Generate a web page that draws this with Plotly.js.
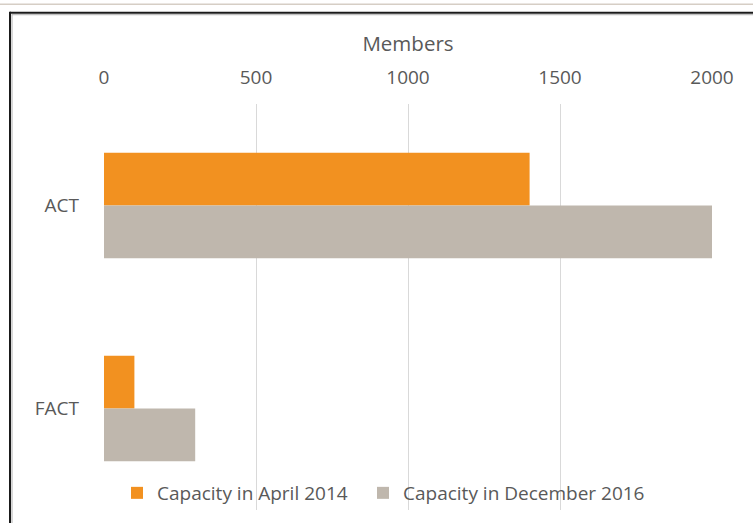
<!DOCTYPE html>
<html>
<head>
<meta charset="utf-8">
<script src="https://cdn.plot.ly/plotly-3.0.1.min.js"></script>
<style>
html,body{margin:0;padding:0;background:#fff;overflow:hidden;}
#chart{width:753px;height:523px;}
</style>
</head>
<body>
<div id="chart"></div>
<script>
var categories = ['ACT', 'FACT'];
var seriesNames = ['Capacity in April 2014', 'Capacity in December 2016'];
var april2014 = [1400, 100];
var december2016 = [2000, 300];
var xTicks = [0, 500, 1000, 1500, 2000];

var W = 753, H = 523;
var mL = 104, mR = 41, mT = 104, mB = 12;
var pw = W - mL - mR, ph = H - mT - mB;
function px(x){ return (x - mL) / pw; }
function py(y){ return (H - mB - y) / ph; }

var textColor = '#595959';
var fam = '"Open Sans", sans-serif';
var font = {family: fam, size: 19, color: textColor};
var titleFont = {family: fam, size: 20.5, color: textColor};

var traces = [
  {type: 'bar', orientation: 'h', name: seriesNames[0], y: categories, x: april2014,
   marker: {color: '#F29120'}, hoverinfo: 'x+name', legend: 'legend'},
  {type: 'bar', orientation: 'h', name: seriesNames[1], y: categories, x: december2016,
   marker: {color: '#BFB7AD'}, hoverinfo: 'x+name', legend: 'legend2'}
];

function legendAt(xPix){
  return {orientation: 'h', x: px(xPix), xanchor: 'left', y: py(493), yanchor: 'middle',
          bgcolor: 'rgba(0,0,0,0)', font: font};
}

var layout = {
  width: W, height: H,
  margin: {l: mL, r: mR, t: mT, b: mB, pad: 0},
  paper_bgcolor: '#ffffff', plot_bgcolor: '#ffffff',
  font: font,
  barmode: 'group',
  bargap: 0.48, bargroupgap: 0,
  showlegend: true,
  legend: legendAt(117),
  legend2: legendAt(363),
  xaxis: {side: 'top', range: [0, 2000], tickvals: xTicks, ticktext: xTicks.map(String),
          showgrid: true, gridcolor: '#D9D9D9', gridwidth: 1, zeroline: false,
          showline: false, ticks: '', tickfont: font, ticklabelstandoff: 15,
          title: {text: 'Members', font: titleFont, standoff: 7}},
  yaxis: {type: 'category', autorange: 'reversed', showgrid: false, zeroline: false,
          showline: false, ticks: '', tickfont: font, ticklabelstandoff: 24},
  shapes: [
    {type: 'line', xref: 'paper', yref: 'paper', x0: px(0), x1: px(W), y0: py(4), y1: py(4),
     line: {color: '#D6CEC5', width: 1.5}},
    {type: 'line', xref: 'paper', yref: 'paper', x0: px(10), x1: px(W + 5), y0: py(12.5), y1: py(12.5),
     line: {color: '#1a1a1a', width: 2}},
    {type: 'line', xref: 'paper', yref: 'paper', x0: px(10), x1: px(10), y0: py(11.5), y1: py(H + 5),
     line: {color: '#1a1a1a', width: 2}},
    {type: 'line', xref: 'paper', yref: 'paper', x0: px(12), x1: px(W + 5), y0: py(14.5), y1: py(14.5),
     line: {color: '#B0B0B0', width: 1}},
    {type: 'line', xref: 'paper', yref: 'paper', x0: px(12), x1: px(12), y0: py(14), y1: py(H + 5),
     line: {color: '#B0B0B0', width: 1}}
  ]
};

Plotly.newPlot('chart', traces, layout, {displayModeBar: false, staticPlot: true});
</script>
</body>
</html>
